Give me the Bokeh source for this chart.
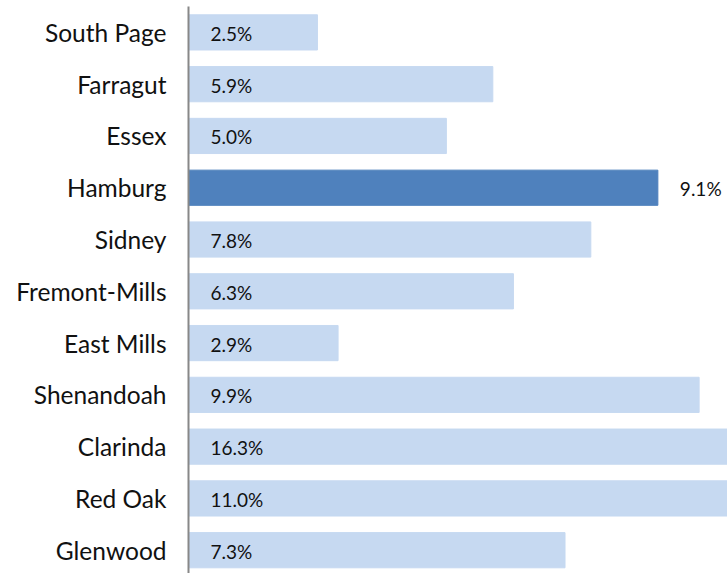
from bokeh.plotting import figure
from bokeh.models import ColumnDataSource, FixedTicker
from bokeh.core.properties import value
from bokeh.embed import file_html
from bokeh.resources import INLINE

categories = ["South Page", "Farragut", "Essex", "Hamburg", "Sidney", "Fremont-Mills",
              "East Mills", "Shenandoah", "Clarinda", "Red Oak", "Glenwood"]
values = [2.5, 5.9, 5.0, 9.1, 7.8, 6.3, 2.9, 9.9, 16.3, 11.0, 7.3]
highlight = "Hamburg"

LIGHT = "#C6D9F1"
DARK = "#4F81BD"

pos = list(range(len(categories)))
colors = [DARK if c == highlight else LIGHT for c in categories]
label_x = [v if c == highlight else 0 for c, v in zip(categories, values)]
labels = [f"{v:.1f}%" for v in values]

src = ColumnDataSource(dict(y=pos, v=values, color=colors, lx=label_x, lab=labels))

p = figure(width=727, height=573, output_backend="svg", toolbar_location=None,
           x_range=(0, 10.45), y_range=(10.45, -0.5),
           min_border_left=188, min_border_right=0, min_border_top=6, min_border_bottom=0)

p.hbar(y="y", right="v", left=0, height=0.68, color="color", source=src)
p.text(x="lx", y="y", text="lab", source=src, x_offset=22, y_offset=1,
       text_font=value("Lato"), text_font_size="19px", text_color="#111111",
       text_baseline="middle", text_align="left")

p.xaxis.visible = False
p.xgrid.visible = False
p.ygrid.visible = False
p.outline_line_color = None

ax = p.yaxis[0]
ax.ticker = FixedTicker(ticks=pos)
ax.major_label_overrides = {i: c for i, c in zip(pos, categories)}
ax.major_tick_line_color = None
ax.minor_tick_line_color = None
ax.axis_line_color = "#888888"
ax.axis_line_width = 2
ax.major_label_text_font = "Lato"
ax.major_label_text_font_size = "24.5px"
ax.major_label_text_color = "#111111"
ax.major_label_standoff = 16

open("out.html", "w").write(file_html(p, INLINE))
